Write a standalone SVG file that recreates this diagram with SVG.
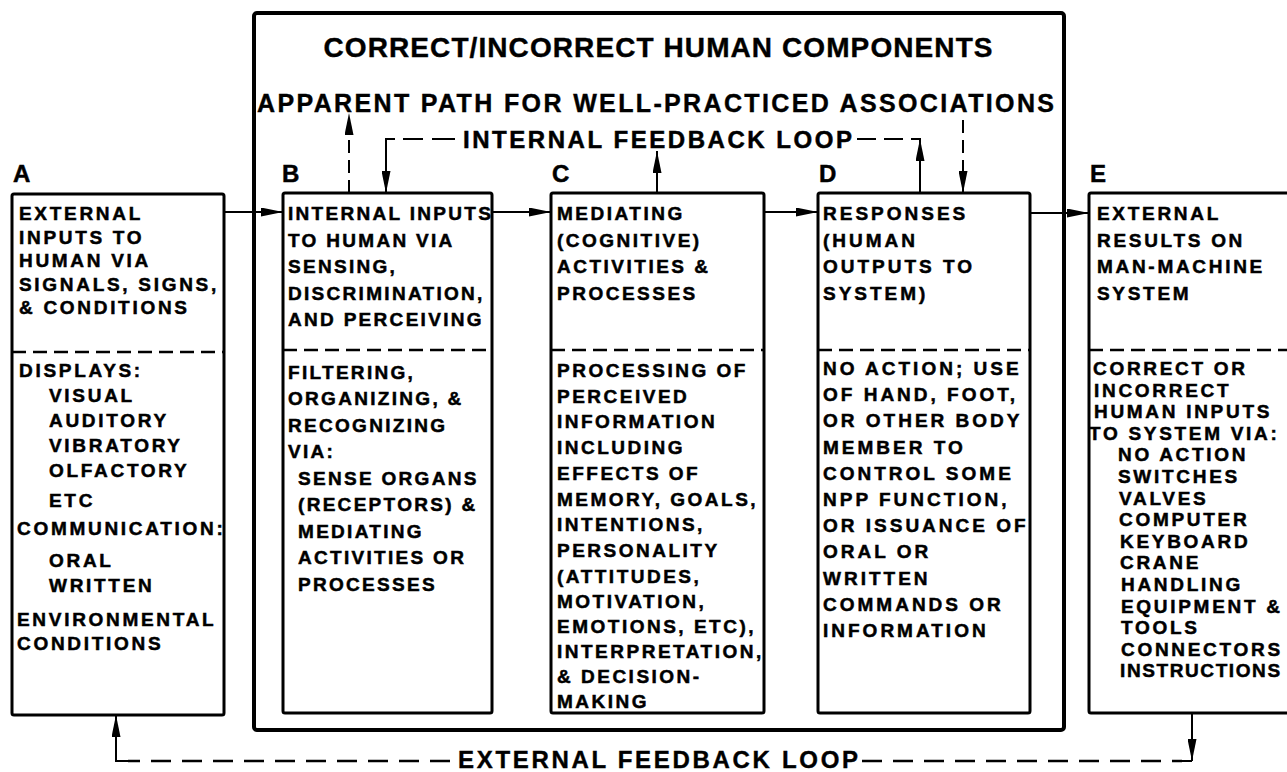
<svg xmlns="http://www.w3.org/2000/svg" width="1287" height="772" viewBox="0 0 1287 772">
<style>
text{font-family:"Liberation Sans",Arial,Helvetica,sans-serif;font-weight:bold;fill:#000;stroke:#000;stroke-width:0.5}
.t{font-size:19px}
.ta{letter-spacing:2.7px}
.tb{letter-spacing:2.3px}
.tc{letter-spacing:2.5px}
.td{letter-spacing:3px}
.te{letter-spacing:2.7px}
.hd{font-size:25px;stroke-width:0.4}
.lb{font-size:24px}
.box{fill:#fff;stroke:#000;stroke-width:3}
.outer{fill:none;stroke:#000;stroke-width:4}
.sep{stroke:#000;stroke-width:2.5;stroke-dasharray:14 7;fill:none}
.ln{stroke:#000;stroke-width:2;fill:none}
.dl{stroke:#000;stroke-width:2;fill:none;stroke-dasharray:13 7}
.lp{stroke:#000;stroke-width:2.5;fill:none;stroke-dasharray:20 11}
</style>
<defs>
<marker id="ah" markerUnits="userSpaceOnUse" markerWidth="22" markerHeight="9" refX="22" refY="4.5" orient="auto">
<path d="M0,0 L22,4.5 L0,9 Z" fill="#000"/>
</marker>
</defs>
<rect width="1287" height="772" fill="#fff"/>

<g id="human-components">
<rect class="outer" x="254" y="13" width="810" height="717" rx="3"/>
<text class="hd" x="658" y="57" text-anchor="middle" textLength="669" lengthAdjust="spacing" style="font-size:28px">CORRECT/INCORRECT HUMAN COMPONENTS</text>
<text class="hd" x="257" y="112" textLength="797" lengthAdjust="spacing">APPARENT PATH FOR WELL-PRACTICED ASSOCIATIONS</text>
<text class="lb" x="463" y="148" textLength="389" lengthAdjust="spacing">INTERNAL FEEDBACK LOOP</text>
</g>

<g id="node-A">
<text class="lb" x="13" y="182">A</text>
<rect class="box" x="12" y="194" width="212" height="521" rx="2"/>
<line class="sep" x1="12" y1="352" x2="224" y2="352"/>
<g class="t ta">
<text x="19" y="220">EXTERNAL</text>
<text x="19" y="243.5">INPUTS TO</text>
<text x="19" y="267">HUMAN VIA</text>
<text x="19" y="290.5">SIGNALS, SIGNS,</text>
<text x="19" y="314">&amp; CONDITIONS</text>
<text x="19" y="377">DISPLAYS:</text>
<text x="49" y="402">VISUAL</text>
<text x="49" y="427">AUDITORY</text>
<text x="49" y="452">VIBRATORY</text>
<text x="49" y="477">OLFACTORY</text>
<text x="49" y="507">ETC</text>
<text x="17" y="535">COMMUNICATION:</text>
<text x="49" y="567">ORAL</text>
<text x="49" y="592">WRITTEN</text>
<text x="17" y="626">ENVIRONMENTAL</text>
<text x="17" y="650">CONDITIONS</text>
</g>
</g>

<g id="node-B">
<text class="lb" x="282" y="182">B</text>
<rect class="box" x="283" y="193" width="209" height="520" rx="2"/>
<line class="sep" x1="283" y1="350" x2="492" y2="350"/>
<g class="t tb">
<text x="288" y="220">INTERNAL INPUTS</text>
<text x="288" y="246.5">TO HUMAN VIA</text>
<text x="288" y="273">SENSING,</text>
<text x="288" y="299.5">DISCRIMINATION,</text>
<text x="288" y="326">AND PERCEIVING</text>
<text x="288" y="378.5">FILTERING,</text>
<text x="288" y="405">ORGANIZING, &amp;</text>
<text x="288" y="431.5">RECOGNIZING</text>
<text x="288" y="458">VIA:</text>
<text x="298" y="484.5">SENSE ORGANS</text>
<text x="298" y="511">(RECEPTORS) &amp;</text>
<text x="298" y="537.5">MEDIATING</text>
<text x="298" y="564">ACTIVITIES OR</text>
<text x="298" y="590.5">PROCESSES</text>
</g>
</g>

<g id="node-C">
<text class="lb" x="552" y="182">C</text>
<rect class="box" x="551" y="193" width="213" height="520" rx="2"/>
<line class="sep" x1="551" y1="350" x2="764" y2="350"/>
<g class="t tc">
<text x="557" y="220">MEDIATING</text>
<text x="557" y="246.5">(COGNITIVE)</text>
<text x="557" y="273">ACTIVITIES &amp;</text>
<text x="557" y="299.5">PROCESSES</text>
<text x="557" y="377">PROCESSING OF</text>
<text x="557" y="402.7">PERCEIVED</text>
<text x="557" y="428.4">INFORMATION</text>
<text x="557" y="454.1">INCLUDING</text>
<text x="557" y="479.9">EFFECTS OF</text>
<text x="557" y="505.6">MEMORY, GOALS,</text>
<text x="557" y="531.3">INTENTIONS,</text>
<text x="557" y="557">PERSONALITY</text>
<text x="557" y="583">(ATTITUDES,</text>
<text x="557" y="608">MOTIVATION,</text>
<text x="557" y="633">EMOTIONS, ETC),</text>
<text x="557" y="658">INTERPRETATION,</text>
<text x="557" y="683">&amp; DECISION-</text>
<text x="557" y="708">MAKING</text>
</g>
</g>

<g id="node-D">
<text class="lb" x="819" y="182">D</text>
<rect class="box" x="818" y="193" width="212" height="520" rx="2"/>
<line class="sep" x1="818" y1="350" x2="1030" y2="350"/>
<g class="t td">
<text x="823" y="220">RESPONSES</text>
<text x="823" y="246.5">(HUMAN</text>
<text x="823" y="273">OUTPUTS TO</text>
<text x="823" y="299.5">SYSTEM)</text>
<text x="823" y="375">NO ACTION; USE</text>
<text x="823" y="401.2">OF HAND, FOOT,</text>
<text x="823" y="427.4">OR OTHER BODY</text>
<text x="823" y="453.6">MEMBER TO</text>
<text x="823" y="479.8">CONTROL SOME</text>
<text x="823" y="506">NPP FUNCTION,</text>
<text x="823" y="532.2">OR ISSUANCE OF</text>
<text x="823" y="558.4">ORAL OR</text>
<text x="823" y="584.6">WRITTEN</text>
<text x="823" y="610.8">COMMANDS OR</text>
<text x="823" y="637">INFORMATION</text>
</g>
</g>

<g id="node-E">
<text class="lb" x="1090" y="182">E</text>
<rect class="box" x="1089" y="193" width="201" height="520" rx="2"/>
<line class="sep" x1="1089" y1="350" x2="1290" y2="350"/>
<g class="t te">
<text x="1097" y="220">EXTERNAL</text>
<text x="1097" y="246.5">RESULTS ON</text>
<text x="1097" y="273">MAN-MACHINE</text>
<text x="1097" y="299.5">SYSTEM</text>
<text x="1093" y="375">CORRECT OR</text>
<text x="1094" y="396.6">INCORRECT</text>
<text x="1094" y="418.2">HUMAN INPUTS</text>
<text x="1089" y="439.8">TO SYSTEM VIA:</text>
<text x="1118" y="461.4">NO ACTION</text>
<text x="1118" y="483">SWITCHES</text>
<text x="1119" y="504.6">VALVES</text>
<text x="1119" y="526.2">COMPUTER</text>
<text x="1120" y="547.8">KEYBOARD</text>
<text x="1120" y="569.4">CRANE</text>
<text x="1121" y="591">HANDLING</text>
<text x="1121" y="612.6">EQUIPMENT &amp;</text>
<text x="1121" y="634.2">TOOLS</text>
<text x="1121" y="655.8">CONNECTORS</text>
<text x="1120" y="677.4" style="letter-spacing:1.6px">INSTRUCTIONS</text>
</g>
</g>

<g id="connectors">
<line class="ln" x1="224" y1="212" x2="283" y2="212" marker-end="url(#ah)"/>
<line class="ln" x1="492" y1="212" x2="551" y2="212" marker-end="url(#ah)"/>
<line class="ln" x1="764" y1="212" x2="818" y2="212" marker-end="url(#ah)"/>
<line class="ln" x1="1030" y1="213" x2="1089" y2="213" marker-end="url(#ah)"/>
<line class="ln" x1="657" y1="193" x2="657" y2="151" marker-end="url(#ah)"/>
<line class="dl" x1="349" y1="193" x2="349" y2="113" marker-end="url(#ah)"/>
<line class="dl" x1="963" y1="120" x2="963" y2="193" marker-end="url(#ah)"/>
<path class="ln" d="M395,139 H386 V193" marker-end="url(#ah)"/>
<path class="ln" d="M403,139 H423 M432,139 H455"/>
<path class="ln" d="M911,139 H920 V193"/>
<line class="ln" x1="920" y1="193" x2="920" y2="139" marker-end="url(#ah)"/>
<path class="ln" d="M857,139 H876 M884,139 H903"/>
<path class="ln" d="M128,761 H116 V715" marker-end="url(#ah)"/>
<path class="lp" d="M450,761 H128"/>
<path class="lp" d="M862,761 H1182"/>
<path class="ln" d="M1180,761 H1192"/>
<line class="ln" x1="1192" y1="713" x2="1192" y2="761" marker-end="url(#ah)"/>
<text class="hd" x="458" y="768" textLength="400" lengthAdjust="spacing" style="font-size:24px">EXTERNAL FEEDBACK LOOP</text>
</g>
</svg>
